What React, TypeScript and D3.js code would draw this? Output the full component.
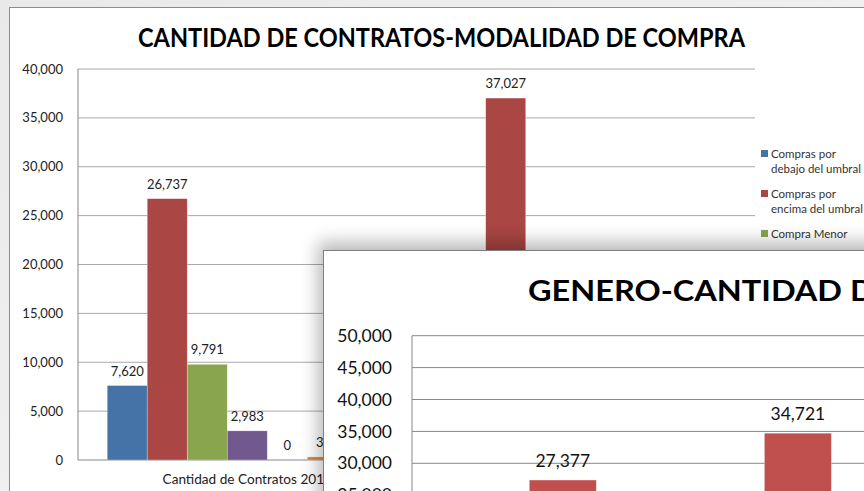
import React from 'react';
import * as d3 from 'd3';

// back chart: contracts by purchase modality
const modCategories = ['Cantidad de Contratos 2015', 'Cantidad de Contratos 2016'];
const modSeries = [
  'Compras por debajo del umbral',
  'Compras por encima del umbral',
  'Compra Menor',
  'Contrato Abierto',
  'Casos de Excepción',
  'Compra Directa',
  'Otras Modalidades',
];
const modColors = ['#4572A7', '#AA4643', '#89A54E', '#71588F', '#4198AF', '#DB843D', '#93A9CF'];
const modValues2015 = [7620, 26737, 9791, 2983, 0, 312, 1460];
const modValues2016 = [9850, 37027, 12104, 3120, 0, 410, 1890];
const modTicks = [0, 5000, 10000, 15000, 20000, 25000, 30000, 35000, 40000];
const legendLines = [
  ['Compras por', 'debajo del umbral'],
  ['Compras por', 'encima del umbral'],
  ['Compra Menor'],
  ['Contrato Abierto'],
  ['Casos de Excepción'],
  ['Compra Directa'],
  ['Otras Modalidades'],
];

// front chart: contracts by gender
const genCategories = ['Mujeres', 'Hombres'];
const genValues = [27377, 34721];
const genTicks = [0, 5000, 10000, 15000, 20000, 25000, 30000, 35000, 40000, 45000, 50000];

const fmt = d3.format(',');
const FONT = 'Lato, "Open Sans", sans-serif';

const App: React.FC = () => {
  const W = 864;
  const H = 491;

  // ---- back chart geometry
  const m = { left: 78, right: 755, top: 69, bottom: 460 };
  const yMod = d3.scaleLinear().domain([0, 40000]).range([m.bottom, m.top]);
  const xMod = d3.scaleBand<string>().domain(modCategories).range([m.left, m.right]);
  const xSer = d3
    .scaleBand<string>()
    .domain(modSeries)
    .range([0, xMod.bandwidth()])
    .paddingOuter(0.73);
  const modData = [modValues2015, modValues2016];

  // ---- front chart geometry
  const f = { left: 412, right: 900, top: 335.7 };
  const yGen = d3.scaleLinear().domain([0, 50000]).range([654.7, f.top]);
  const xGen = d3
    .scaleBand<string>()
    .domain(genCategories)
    .range([f.left, 948.7])
    .paddingInner(0.715)
    .paddingOuter(0.499);

  return (
    <div style={{ position: 'fixed', left: 0, top: 0, width: W, height: H }}>
      <svg width={W} height={H} style={{ display: 'block', fontFamily: FONT }}>
        <defs>
          <filter id="shadow" x="-20%" y="-20%" width="140%" height="140%">
            <feGaussianBlur stdDeviation="9" />
          </filter>
          <linearGradient id="bg" x1="0" y1="0" x2="1" y2="1">
            <stop offset="0" stopColor="#e9e9e9" />
            <stop offset="1" stopColor="#f6f6f6" />
          </linearGradient>
        </defs>

        <rect width={W} height={H} fill="url(#bg)" />

        {/* back chart frame */}
        <rect x={9.5} y={7.5} width={1000} height={700} fill="#fff" stroke="#8c8c8c" />
        <text
          x={441.5}
          y={46.5}
          textAnchor="middle"
          fontWeight={700}
          fontSize={26}
          textLength={607}
          lengthAdjust="spacingAndGlyphs"
          fill="#000"
        >
          CANTIDAD DE CONTRATOS-MODALIDAD DE COMPRA
        </text>

        {modTicks.map((t) => (
          <g key={t}>
            {t > 0 && (
              <line x1={m.left} x2={m.right} y1={yMod(t)} y2={yMod(t)} stroke="#a9a9a9" strokeWidth={1} />
            )}
            <text x={63} y={yMod(t)} dy="0.35em" textAnchor="end" fontSize={13} fill="#222">
              {fmt(t)}
            </text>
          </g>
        ))}
        <line x1={m.left} x2={m.left} y1={m.top} y2={m.bottom} stroke="#868686" />
        <line x1={m.left} x2={m.right} y1={m.bottom} y2={m.bottom} stroke="#868686" />

        {modCategories.map((c, ci) => (
          <g key={c} transform={`translate(${xMod(c)},0)`}>
            {modSeries.map((s, si) => {
              const v = modData[ci][si];
              const x = xSer(s)!;
              return (
                <g key={s}>
                  <rect
                    x={x}
                    y={yMod(v)}
                    width={xSer.bandwidth()}
                    height={m.bottom - yMod(v)}
                    fill={modColors[si]}
                    stroke="#fff"
                    strokeOpacity={0.5}
                    strokeWidth={0.6}
                  />
                  <text
                    x={x + xSer.bandwidth() / 2}
                    y={yMod(v) - 10}
                    textAnchor="middle"
                    fontSize={13}
                    fill="#222"
                  >
                    {fmt(v)}
                  </text>
                </g>
              );
            })}
            <text x={xMod.bandwidth() / 2} y={484} textAnchor="middle" fontSize={13.6} fill="#222">
              {c}
            </text>
          </g>
        ))}

        {legendLines.map((lines, i) => {
          const y0 = 154 + i * 40;
          return (
            <g key={i}>
              <rect x={761} y={y0 - 4} width={7} height={7} fill={modColors[i]} />
              {lines.map((l, li) => (
                <text key={li} x={771} y={y0 + li * 15} dy="0.35em" fontSize={11.5} fill="#333">
                  {l}
                </text>
              ))}
            </g>
          );
        })}

        {/* shadows of the charts laid on top */}
        <rect x={318} y={242} width={700} height={400} fill="#000" opacity={0.28} filter="url(#shadow)" />

        {/* front chart frame */}
        <rect x={323.5} y={250.5} width={700} height={400} fill="#fff" stroke="#7f7f7f" />
        <text
          transform="translate(528,300.5) scale(1.12,1)"
          fontWeight={700}
          fontSize={29}
          fill="#000"
        >
          GENERO-CANTIDAD DE CONTRATOS
        </text>

        {genTicks.map((t) => (
          <g key={t}>
            <line x1={f.left} x2={f.right} y1={yGen(t)} y2={yGen(t)} stroke="#878787" />
            <text x={392} y={yGen(t)} dy="0.35em" textAnchor="end" fontSize={17.5} fill="#111">
              {fmt(t)}
            </text>
          </g>
        ))}
        <line x1={f.left} x2={f.left} y1={f.top} y2={H} stroke="#878787" />

        {genCategories.map((c, i) => {
          const v = genValues[i];
          const x = xGen(c)!;
          return (
            <g key={c}>
              <rect
                x={x}
                y={yGen(v)}
                width={xGen.bandwidth()}
                height={yGen(0) - yGen(v)}
                fill="#C0504D"
                stroke="#fff"
                strokeOpacity={0.5}
                strokeWidth={0.6}
              />
              <text
                x={x + xGen.bandwidth() / 2}
                y={yGen(v) - 13.5}
                textAnchor="middle"
                fontSize={17.5}
                fill="#111"
              >
                {fmt(v)}
              </text>
            </g>
          );
        })}

        {/* faint shadow of a third window just below the frame */}
        <rect x={600} y={505} width={500} height={200} fill="#000" opacity={0.12} filter="url(#shadow)" />
      </svg>
    </div>
  );
};

export default App;
